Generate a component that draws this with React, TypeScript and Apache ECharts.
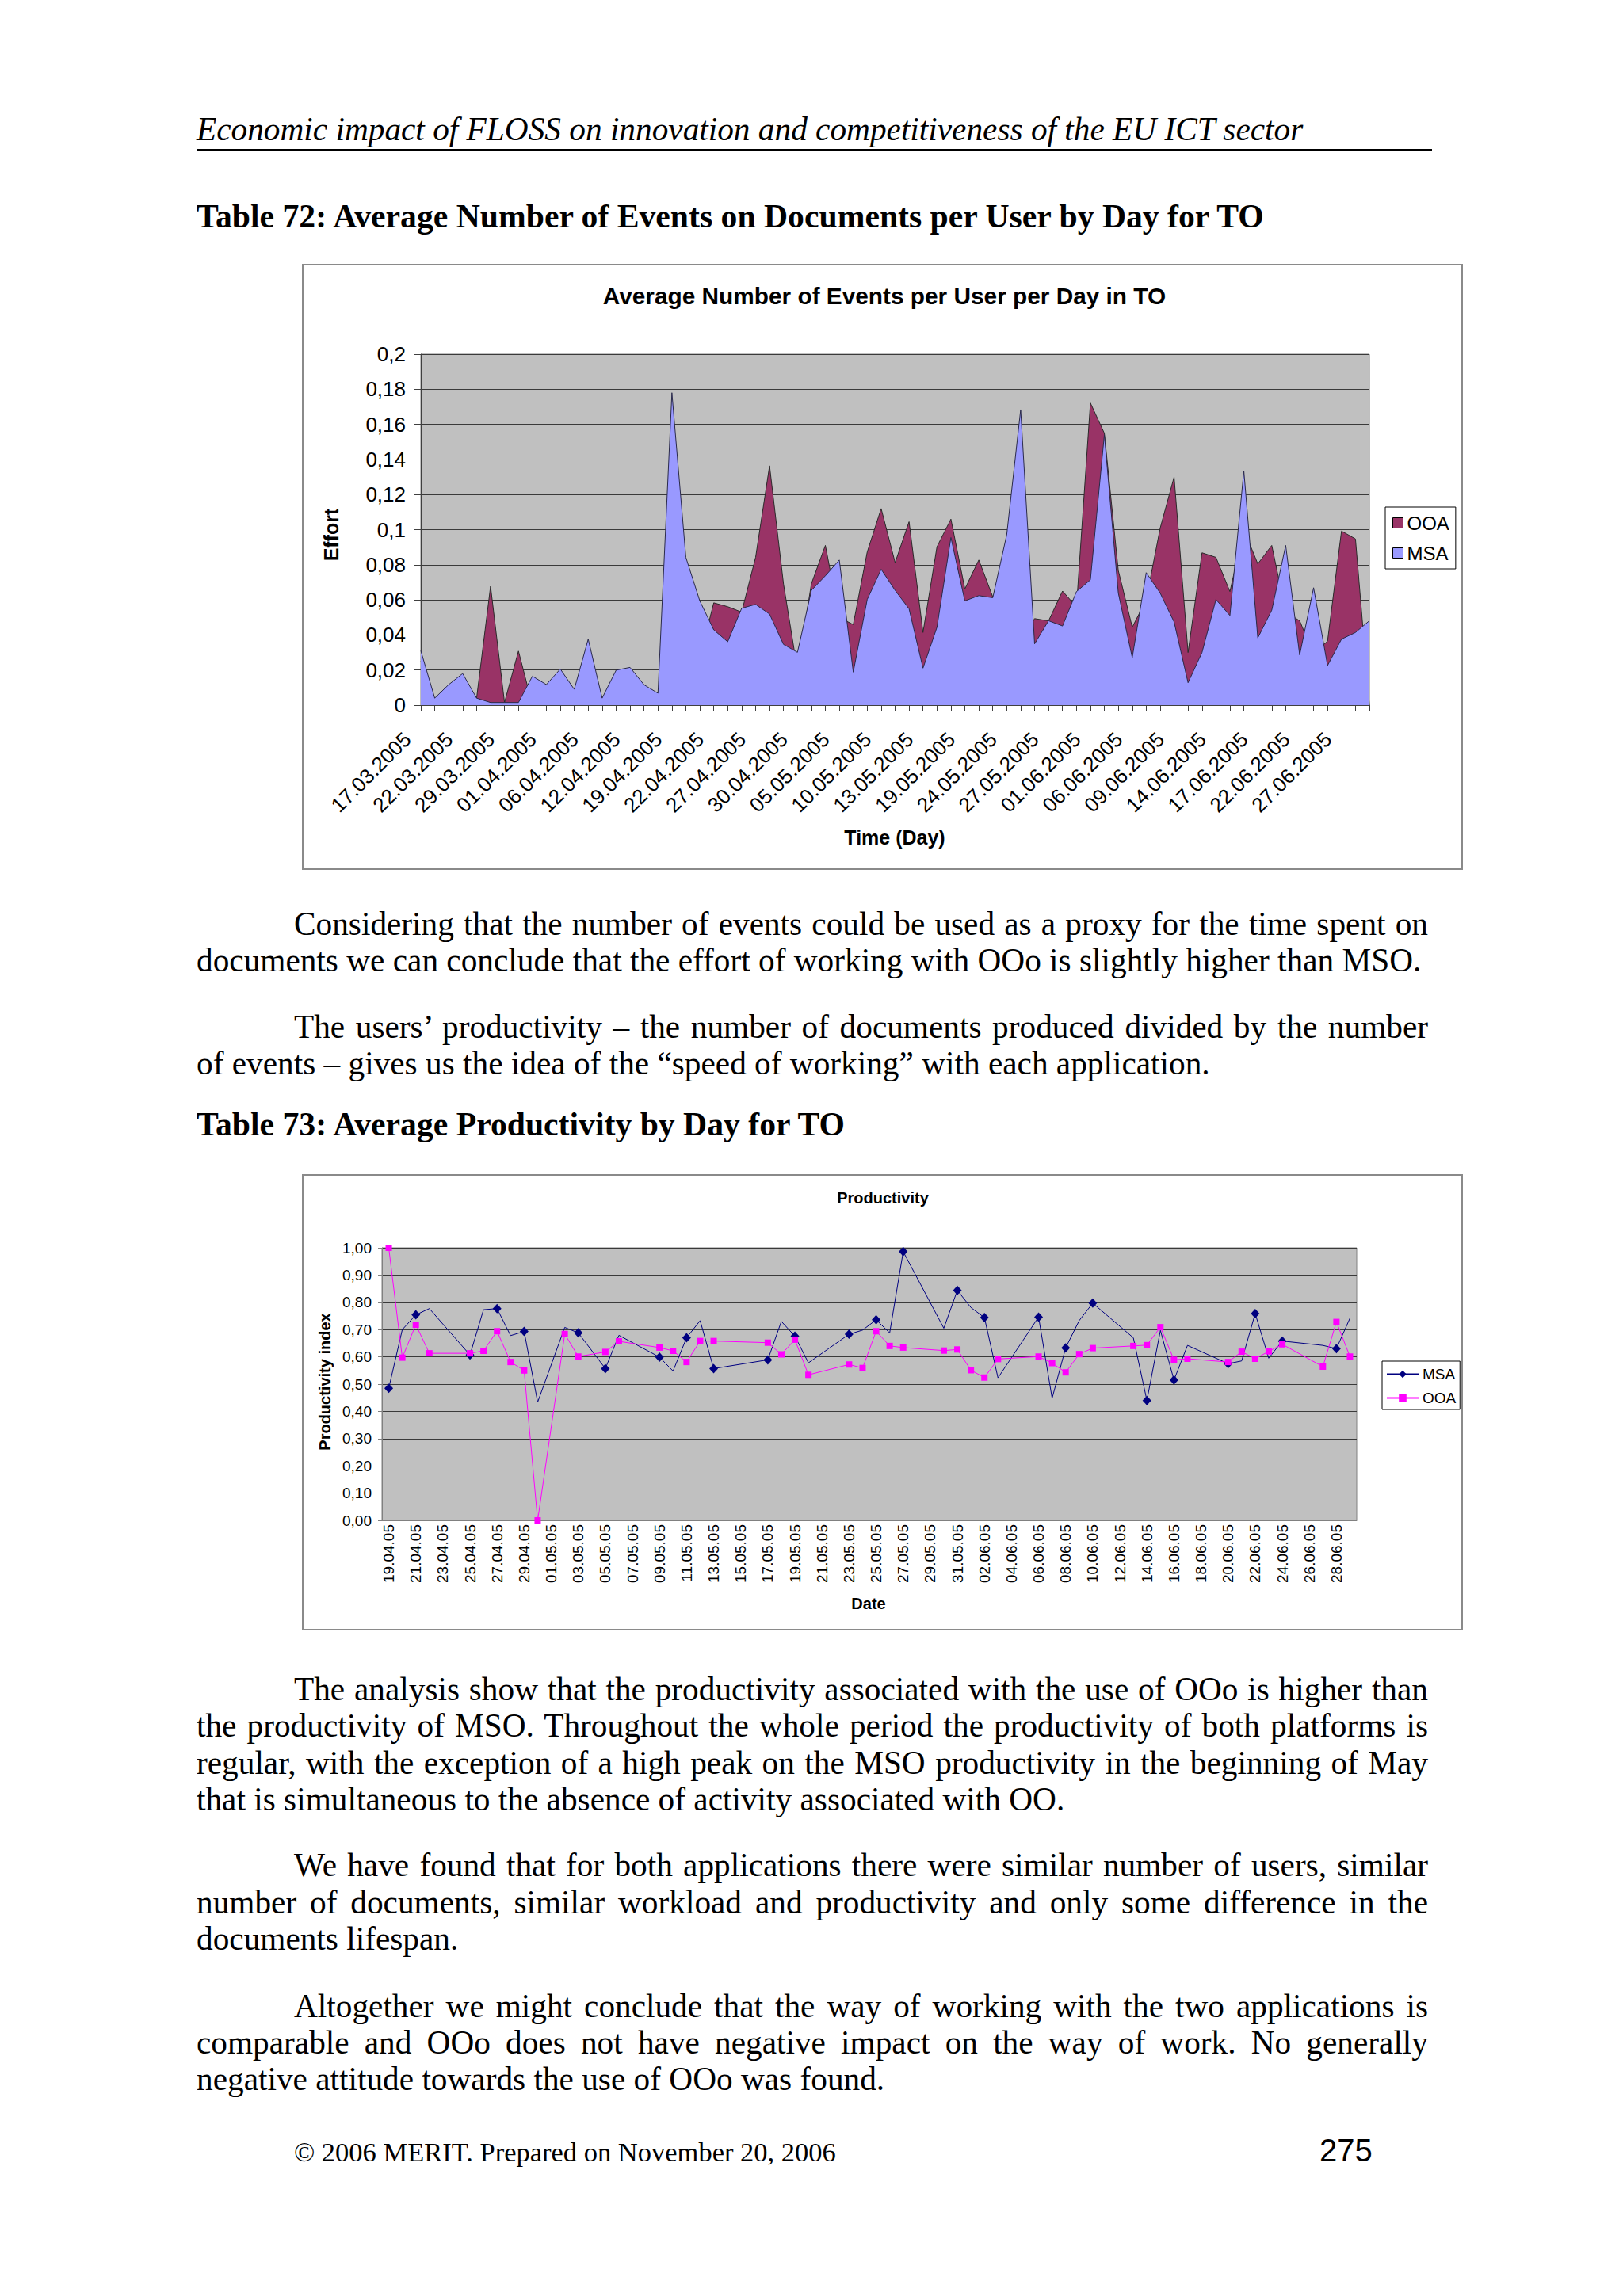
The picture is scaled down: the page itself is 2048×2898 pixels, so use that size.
import React, { useEffect, useRef } from "react";
import * as echarts from "echarts";

const SANS = '"Liberation Sans", Arial, sans-serif';
const SERIF = '"Liberation Serif", "Times New Roman", serif';

// ---------- Chart 1 data: Average Number of Events per User per Day in TO ----------
const days1 = [
  "17.03.2005", "18.03.2005", "21.03.2005", "22.03.2005", "23.03.2005", "24.03.2005",
  "29.03.2005", "30.03.2005", "31.03.2005", "01.04.2005", "04.04.2005", "05.04.2005",
  "06.04.2005", "08.04.2005", "11.04.2005", "12.04.2005", "13.04.2005", "15.04.2005",
  "19.04.2005", "20.04.2005", "21.04.2005", "22.04.2005", "25.04.2005", "26.04.2005",
  "27.04.2005", "28.04.2005", "29.04.2005", "30.04.2005", "02.05.2005", "03.05.2005",
  "05.05.2005", "06.05.2005", "09.05.2005", "10.05.2005", "11.05.2005", "12.05.2005",
  "13.05.2005", "17.05.2005", "18.05.2005", "19.05.2005", "20.05.2005", "23.05.2005",
  "24.05.2005", "25.05.2005", "26.05.2005", "27.05.2005", "30.05.2005", "31.05.2005",
  "01.06.2005", "02.06.2005", "03.06.2005", "06.06.2005", "07.06.2005", "08.06.2005",
  "09.06.2005", "10.06.2005", "13.06.2005", "14.06.2005", "15.06.2005", "16.06.2005",
  "17.06.2005", "20.06.2005", "21.06.2005", "22.06.2005", "23.06.2005", "24.06.2005",
  "27.06.2005", "28.06.2005", "29.06.2005",
];

const ooa1 = [
  0.025, 0.003, 0.008, 0.012, 0.004, 0.0677, 0.0015, 0.0308, 0.0, 0.008,
  0.015, 0.006, 0.025, 0.003, 0.014, 0.017, 0.009, 0.005, 0.05, 0.04,
  0.027, 0.0583, 0.0561, 0.053, 0.0842, 0.1364, 0.069, 0.02, 0.0692, 0.091,
  0.05, 0.0459, 0.0872, 0.112, 0.0812, 0.1045, 0.0414, 0.0902, 0.106, 0.0662,
  0.0827, 0.0617, 0.06, 0.036, 0.0493, 0.048, 0.065, 0.056, 0.1722, 0.1549,
  0.0767, 0.0444, 0.06, 0.1008, 0.13, 0.03, 0.0868, 0.0842, 0.0647, 0.1,
  0.0805, 0.091, 0.053, 0.0481, 0.029, 0.0365, 0.0992, 0.0947, 0.0,
];

const msa1 = [
  0.031, 0.004, 0.0117, 0.018, 0.004, 0.0015, 0.0015, 0.0015, 0.0165, 0.0117,
  0.0206, 0.009, 0.0376, 0.004, 0.0199, 0.0215, 0.0116, 0.0068, 0.178, 0.0842,
  0.0594, 0.0429, 0.0361, 0.0552, 0.0574, 0.0519, 0.0346, 0.0301, 0.0654, 0.0737,
  0.0827, 0.0188, 0.0602, 0.0774, 0.0654, 0.0549, 0.0211, 0.0444, 0.0955, 0.0594,
  0.0624, 0.0612, 0.097, 0.1684, 0.0349, 0.0481, 0.0451, 0.0647, 0.0714, 0.1541,
  0.0639, 0.0271, 0.0755, 0.0639, 0.0474, 0.0128, 0.03, 0.0602, 0.0511, 0.1335,
  0.0383, 0.0541, 0.091, 0.0286, 0.0669, 0.0226, 0.0376, 0.0414, 0.0481,
];

// ---------- Chart 2 data: Productivity ----------
const days2 = [
  "19.04.05", "20.04.05", "21.04.05", "22.04.05", "23.04.05", "24.04.05", "25.04.05", "26.04.05",
  "27.04.05", "28.04.05", "29.04.05", "30.04.05", "01.05.05", "02.05.05", "03.05.05", "04.05.05",
  "05.05.05", "06.05.05", "07.05.05", "08.05.05", "09.05.05", "10.05.05", "11.05.05", "12.05.05",
  "13.05.05", "14.05.05", "15.05.05", "16.05.05", "17.05.05", "18.05.05", "19.05.05", "20.05.05",
  "21.05.05", "22.05.05", "23.05.05", "24.05.05", "25.05.05", "26.05.05", "27.05.05", "28.05.05",
  "29.05.05", "30.05.05", "31.05.05", "01.06.05", "02.06.05", "03.06.05", "04.06.05", "05.06.05",
  "06.06.05", "07.06.05", "08.06.05", "09.06.05", "10.06.05", "11.06.05", "12.06.05", "13.06.05",
  "14.06.05", "15.06.05", "16.06.05", "17.06.05", "18.06.05", "19.06.05", "20.06.05", "21.06.05",
  "22.06.05", "23.06.05", "24.06.05", "25.06.05", "26.06.05", "27.06.05", "28.06.05", "29.06.05",
];

const msa2 = [
  0.485, 0.7, 0.754, 0.777, null, null, 0.607, 0.773,
  0.777, 0.678, 0.693, 0.434, null, 0.708, 0.688, null,
  0.557, 0.679, null, null, 0.599, 0.548, 0.67, 0.733,
  0.557, null, null, null, 0.589, 0.73, 0.676, 0.578,
  null, null, 0.683, 0.698, 0.736, 0.688, 0.986, null,
  null, 0.705, 0.844, 0.781, 0.744, 0.523, null, null,
  0.746, 0.448, 0.633, 0.733, 0.797, null, null, 0.67,
  0.44, 0.697, 0.515, 0.642, null, null, 0.575, 0.585,
  0.759, 0.595, 0.658, null, null, 0.642, 0.63, 0.742,
];

const ooa2 = [
  1.0, 0.597, 0.718, 0.613, null, null, 0.613, 0.622,
  0.694, 0.581, 0.55, 0.0, null, 0.684, 0.601, null,
  0.618, 0.657, null, null, 0.634, 0.622, 0.581, 0.658,
  0.658, null, null, null, 0.652, 0.609, 0.663, 0.534,
  null, null, 0.572, 0.559, 0.694, 0.64, 0.634, null,
  null, 0.623, 0.627, 0.551, 0.524, 0.592, null, null,
  0.601, 0.577, 0.543, 0.61, 0.632, null, null, 0.64,
  0.643, 0.709, 0.589, 0.593, null, null, 0.581, 0.619,
  0.593, 0.62, 0.646, null, null, 0.564, 0.728, 0.601,
];

// ---------- Page text ----------
const headerText = "Economic impact of FLOSS on innovation and competitiveness of the EU ICT sector";
const caption72 = "Table 72: Average Number of Events on Documents per User by Day for TO";
const caption73 = "Table 73: Average Productivity by Day for TO";

type Ln = { t: string; first?: boolean; last?: boolean; b: number };
const bodyLines: Ln[] = [
  { t: "Considering that the number of events could be used as a proxy for the time spent on", first: true, b: 1181 },
  { t: "documents we can conclude that the effort of working with OOo is slightly higher than MSO.", last: true, b: 1227 },
  { t: "The users’ productivity – the number of documents produced divided by the number", first: true, b: 1311 },
  { t: "of events – gives us the idea of the “speed of working” with each application.", last: true, b: 1357 },
  { t: "The analysis show that the productivity associated with the use of OOo is higher than", first: true, b: 2147 },
  { t: "the productivity of MSO. Throughout the whole period the productivity of both platforms is", b: 2193 },
  { t: "regular, with the exception of a high peak on the MSO productivity in the beginning of May", b: 2240 },
  { t: "that is simultaneous to the absence of activity associated with OO.", last: true, b: 2286 },
  { t: "We have found that for both applications there were similar number of users, similar", first: true, b: 2369 },
  { t: "number of documents, similar workload and productivity and only some difference in the", b: 2416 },
  { t: "documents lifespan.", last: true, b: 2462 },
  { t: "Altogether we might conclude that the way of working with the two applications is", first: true, b: 2547 },
  { t: "comparable and OOo does not have negative impact on the way of work. No generally", b: 2593 },
  { t: "negative attitude towards the use of OOo was found.", last: true, b: 2639 },
];

const BODY = 41.3;
const CAP = 41.7;
const serifTop = (b: number, s: number) => b - 0.8375 * s;
const sansTop = (b: number, s: number) => b - 0.8465 * s;

function Chart({ option, left, top, width, height }: any) {
  const ref = useRef<HTMLDivElement>(null);
  useEffect(() => {
    const chart = echarts.init(ref.current!, null, { renderer: "svg", width, height });
    chart.setOption(option);
    return () => chart.dispose();
  }, []);
  return (
    <div
      ref={ref}
      style={{ position: "absolute", left, top, width, height, background: "#fff" }}
    />
  );
}

const fmt1 = (v: number) => String(parseFloat(v.toFixed(2))).replace(".", ",");
const fmt2 = (v: number) => v.toFixed(2).replace(".", ",");

const W1 = 1465;
const H1 = 765;
const option1: any = {
  animation: false,
  textStyle: { fontFamily: SANS },
  graphic: [
    {
      type: "rect",
      shape: { x: 1, y: 1, width: W1 - 2, height: H1 - 2 },
      style: { fill: "none", stroke: "#8a8a8a", lineWidth: 2 },
      silent: true,
    },
    {
      type: "text",
      x: 735,
      y: 40,
      style: {
        text: "Average Number of Events per User per Day in TO",
        fontSize: 29.8,
        fontWeight: "bold",
        fontFamily: SANS,
        fill: "#000",
        align: "center",
        verticalAlign: "middle",
      },
    },
    {
      type: "text",
      x: 37,
      y: 342,
      rotation: Math.PI / 2,
      style: {
        text: "Effort",
        fontSize: 25,
        fontWeight: "bold",
        fontFamily: SANS,
        fill: "#000",
        align: "center",
        verticalAlign: "middle",
      },
    },
    {
      type: "text",
      x: 748,
      y: 724,
      style: {
        text: "Time (Day)",
        fontSize: 25,
        fontWeight: "bold",
        fontFamily: SANS,
        fill: "#000",
        align: "center",
        verticalAlign: "middle",
      },
    },
  ],
  grid: {
    left: 150,
    top: 114,
    width: 1197,
    height: 443,
    show: true,
    backgroundColor: "#C0C0C0",
    borderColor: "#808080",
    borderWidth: 1,
  },
  legend: {
    data: ["OOA", "MSA"],
    orient: "vertical",
    left: 1367,
    top: 307,
    padding: [8, 8, 8, 9],
    itemGap: 14,
    itemWidth: 13,
    itemHeight: 13,
    icon: "rect",
    itemStyle: { borderColor: "#000", borderWidth: 1 },
    borderColor: "#000",
    borderWidth: 1,
    textStyle: { fontSize: 24, color: "#000", fontFamily: SANS, lineHeight: 24 },
  },
  xAxis: {
    type: "category",
    data: days1,
    boundaryGap: false,
    axisLine: { lineStyle: { color: "#404040", width: 1 } },
    axisTick: { interval: 0, length: 8, lineStyle: { color: "#404040" } },
    axisLabel: {
      interval: 2,
      rotate: 45,
      fontSize: 26,
      color: "#000",
      fontFamily: SANS,
      margin: 40,
      padding: [0, 11, 0, 0],
      verticalAlign: "bottom",
    },
    splitLine: { show: false },
  },
  yAxis: {
    type: "value",
    min: 0,
    max: 0.2,
    interval: 0.02,
    axisLine: { show: true, lineStyle: { color: "#404040", width: 1 } },
    axisTick: { show: true, length: 8, lineStyle: { color: "#404040" } },
    axisLabel: { fontSize: 26, color: "#000", fontFamily: SANS, margin: 19, formatter: fmt1 },
    splitLine: { show: true, lineStyle: { color: "#3a3a3a", width: 1.2 } },
  },
  series: [
    {
      name: "OOA",
      type: "line",
      z: 2,
      data: ooa1,
      showSymbol: false,
      symbol: "none",
      itemStyle: { color: "#993366" },
      lineStyle: { color: "#2a2a2a", width: 1 },
      areaStyle: { color: "#993366", opacity: 1 },
    },
    {
      name: "MSA",
      type: "line",
      z: 4,
      data: msa1,
      showSymbol: false,
      symbol: "none",
      itemStyle: { color: "#9999FF" },
      lineStyle: { color: "#2a2a4a", width: 1 },
      areaStyle: { color: "#9999FF", opacity: 1 },
    },
  ],
};

const W2 = 1465;
const H2 = 576;
const option2: any = {
  animation: false,
  textStyle: { fontFamily: SANS },
  graphic: [
    {
      type: "rect",
      shape: { x: 1, y: 1, width: W2 - 2, height: H2 - 2 },
      style: { fill: "none", stroke: "#8a8a8a", lineWidth: 2 },
      silent: true,
    },
    {
      type: "text",
      x: 733,
      y: 30,
      style: {
        text: "Productivity",
        fontSize: 20,
        fontWeight: "bold",
        fontFamily: SANS,
        fill: "#000",
        align: "center",
        verticalAlign: "middle",
      },
    },
    {
      type: "text",
      x: 29,
      y: 262,
      rotation: Math.PI / 2,
      style: {
        text: "Productivity index",
        fontSize: 20,
        fontWeight: "bold",
        fontFamily: SANS,
        fill: "#000",
        align: "center",
        verticalAlign: "middle",
      },
    },
    {
      type: "text",
      x: 715,
      y: 542,
      style: {
        text: "Date",
        fontSize: 20,
        fontWeight: "bold",
        fontFamily: SANS,
        fill: "#000",
        align: "center",
        verticalAlign: "middle",
      },
    },
  ],
  grid: {
    left: 101,
    top: 93,
    width: 1230,
    height: 344,
    show: true,
    backgroundColor: "#C0C0C0",
    borderColor: "#808080",
    borderWidth: 1,
  },
  legend: {
    data: ["MSA", "OOA"],
    orient: "vertical",
    left: 1363,
    top: 236,
    padding: [7, 5, 5, 5],
    itemGap: 11,
    itemWidth: 40,
    itemHeight: 12,
    borderColor: "#000",
    borderWidth: 1,
    textStyle: { fontSize: 19, color: "#000", fontFamily: SANS, lineHeight: 18 },
  },
  xAxis: {
    type: "category",
    data: days2,
    boundaryGap: true,
    axisLine: { lineStyle: { color: "#808080", width: 1 } },
    axisTick: { interval: 1, length: 7, lineStyle: { color: "#808080" } },
    axisLabel: {
      interval: 1,
      rotate: 90,
      fontSize: 19,
      color: "#000",
      fontFamily: SANS,
      margin: 5,
    },
    splitLine: { show: false },
  },
  yAxis: {
    type: "value",
    min: 0,
    max: 1,
    interval: 0.1,
    axisLine: { show: true, lineStyle: { color: "#808080", width: 1 } },
    axisTick: { show: true, length: 5, lineStyle: { color: "#808080" } },
    axisLabel: { fontSize: 19, color: "#000", fontFamily: SANS, margin: 13, formatter: fmt2 },
    splitLine: { show: true, lineStyle: { color: "#3a3a3a", width: 1.2 } },
  },
  series: [
    {
      name: "MSA",
      type: "line",
      data: msa2,
      connectNulls: true,
      symbol: "diamond",
      symbolSize: [11, 12],
      itemStyle: { color: "#000080" },
      lineStyle: { color: "#000080", width: 1 },
    },
    {
      name: "OOA",
      type: "line",
      data: ooa2,
      connectNulls: true,
      symbol: "rect",
      symbolSize: 8,
      itemStyle: { color: "#FF00FF" },
      lineStyle: { color: "#FF00FF", width: 1 },
    },
  ],
};

function BodyLine({ ln }: { ln: Ln }) {
  const x = ln.first ? 371 : 248;
  const w = 1802 - x;
  return (
    <div
      style={{
        position: "absolute",
        left: x,
        top: serifTop(ln.b, BODY),
        width: w,
        fontFamily: SERIF,
        fontSize: BODY,
        lineHeight: BODY + "px",
        color: "#000",
        textAlign: ln.last ? "left" : "justify",
        textAlignLast: ln.last ? "left" : "justify",
        whiteSpace: ln.last ? "nowrap" : "normal",
      } as any}
    >
      {ln.t}
    </div>
  );
}

export default function App() {
  return (
    <div
      style={{
        position: "absolute",
        left: 0,
        top: 0,
        width: 2048,
        height: 2898,
        background: "#fff",
        overflow: "hidden",
      }}
    >
      <div
        style={{
          position: "absolute",
          left: 248,
          top: serifTop(178, BODY),
          fontFamily: SERIF,
          fontStyle: "italic",
          fontSize: BODY,
          lineHeight: BODY + "px",
          whiteSpace: "nowrap",
        }}
      >
        {headerText}
      </div>
      <div style={{ position: "absolute", left: 248, top: 188, width: 1559, height: 2, background: "#000" }} />
      <div
        style={{
          position: "absolute",
          left: 248,
          top: serifTop(288, CAP),
          fontFamily: SERIF,
          fontWeight: "bold",
          fontSize: CAP,
          lineHeight: CAP + "px",
          whiteSpace: "nowrap",
        }}
      >
        {caption72}
      </div>
      <Chart option={option1} left={381} top={333} width={W1} height={H1} />
      {bodyLines.slice(0, 4).map((ln, i) => (
        <BodyLine key={"a" + i} ln={ln} />
      ))}
      <div
        style={{
          position: "absolute",
          left: 248,
          top: serifTop(1434, CAP),
          fontFamily: SERIF,
          fontWeight: "bold",
          fontSize: CAP,
          lineHeight: CAP + "px",
          whiteSpace: "nowrap",
        }}
      >
        {caption73}
      </div>
      <Chart option={option2} left={381} top={1482} width={W2} height={H2} />
      {bodyLines.slice(4).map((ln, i) => (
        <BodyLine key={"b" + i} ln={ln} />
      ))}
      <div
        style={{
          position: "absolute",
          left: 371,
          top: serifTop(2728, 34.5),
          fontFamily: SERIF,
          fontSize: 34.5,
          lineHeight: "34.5px",
          whiteSpace: "nowrap",
        }}
      >
        © 2006 MERIT. Prepared on November 20, 2006
      </div>
      <div
        style={{
          position: "absolute",
          left: 1665,
          top: sansTop(2728, 40),
          fontFamily: SANS,
          fontSize: 40,
          lineHeight: "40px",
          whiteSpace: "nowrap",
        }}
      >
        275
      </div>
    </div>
  );
}
